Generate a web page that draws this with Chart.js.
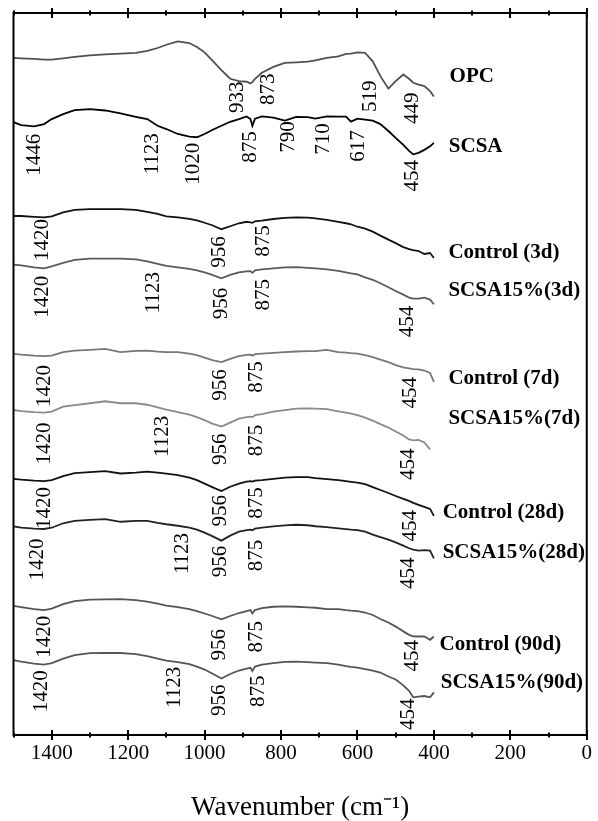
<!DOCTYPE html>
<html><head><meta charset="utf-8">
<script src="https://cdn.jsdelivr.net/npm/chart.js@4.4.1/dist/chart.umd.min.js"></script>
<style>html,body{margin:0;padding:0;background:#fff;}</style>
</head><body>
<canvas id="c" width="598" height="821"></canvas>
<script>
// Wavenumber sampling points (cm-1)
const wavenumbers = [1500,1480,1446,1420,1400,1370,1340,1300,1260,1220,1180,1150,1123,1100,1070,1040,1020,1000,980,956,933,910,890,880,875,868,850,820,790,760,730,710,680,650,630,617,600,580,560,540,519,500,480,465,454,440,425,410,400];

// Transmittance (arbitrary units, stacked spectra)
const opc = [682.7,682.3,681.7,681,681,682.3,683.7,685.3,686.3,687,687.7,689.7,692.7,696,699.3,697.7,693.7,688.3,680.3,670.3,661.7,659.3,658.7,657,658.3,661.7,667.7,673.7,677.7,678.3,679,680.3,682.7,684.3,686.7,687,688.3,687.7,679.3,664.3,651.7,659.3,666,661.7,657.7,655.7,654.3,649.3,643.7];
const scsa = [618,615,613.7,616,621,626,630,631,629.7,626.7,623.3,621,614.3,611,606,603.3,602.7,606,610,614.3,618.3,621,623.7,621,614.3,621.5,623.7,622.5,619.5,623.3,623,621.5,623.7,623.5,623.5,618.5,621.5,620.5,619.5,616,609,602,595,589,585.5,587,590,593.5,597];
const control3d = [523.3,523.3,522.5,522,523,527,529.5,530.3,530.3,530.3,529.5,527.5,525.5,523,522,520.5,519,516.5,514,510,513,516,517.5,517,516.5,518,518.7,520.3,521.5,522,521.7,521,519.5,517.5,516,515,512.5,510.5,507.5,503.5,499.5,496,492,490,489,488,485,486,481];
const scsa15_3d = [474.3,473.5,471.5,470.5,472.5,476,479,480.3,480.3,480.3,479.5,477.5,475,473,471.5,470,468.5,466.5,464,460.5,464,466.5,467.5,467.7,466,468.5,469.5,470.5,471.5,471.7,471,470.5,469.5,468,466.5,465.5,464.5,461.5,459,455.5,451.5,447.7,444,441,440,440,441,439,434.3];
const control7d = [384.3,383.5,382.5,382,382.5,386,387.5,388.3,389.3,386,387.3,387.5,386.5,386,386,384.5,383,380.5,378,376,379.3,382,383.3,383.5,382.5,384,384.5,385.3,386,386.7,387,387,388.3,386,385.5,385,384.5,383,381,378.5,376,373,370.7,369.7,369,368.7,367.5,365,356];
const scsa15_7d = [327.7,326.5,325.5,325,326,331,332.7,334.5,336.5,334.5,334.5,333,330.3,328,325.5,323,320.5,317.5,314,311,315,319,320.5,321,320.5,322.5,323.5,326,327.5,329,329.3,329,328.5,326.3,325,324,322.5,320,317,313.5,310,306,302,298,297,297.5,295,288,null];
const control28d = [258.3,257.5,256.5,256,257,261,264,265,266,263.7,264.5,265.5,264.5,263.5,262,259.5,257,253.5,250,246,250.3,253.5,255.5,256,255.5,256.5,257,258.3,259.5,260,260,259,258,257,256,255.3,254.5,253,250,247,244,241,238,236,234,232,230,228,221];
const scsa15_28d = [210.3,209,208,207.7,209,213.5,216,217,217.7,215,216,216,214,212.5,211,209,207,204,200.5,196,201,205,206.5,207,206.5,208,209,210.3,211.3,212,211.5,210.5,209.5,208.3,207.5,207,206.5,205,202,199.5,197,194.3,191,188.3,187,186,186.5,186,178];
const control90d = [130.3,129,127,126,127.5,132,135,136.5,136.7,137,136,134.5,132.5,130.5,129,127,125,122.5,120,116.7,120,123,125,126,122.7,126,128,129.3,129.7,129.3,128.7,128.3,127,127,126,125.5,125,123.5,121,117,113.5,109.3,104.5,101,99.5,99.3,99.3,96,99.3];
const scsa15_90d = [75.5,74,72,71,72.5,77,80.5,82.5,82.7,82.7,81.5,79.5,77,75,73.5,71.5,69,66,62,57,61.5,65,67,67.7,64.5,69,71,72.5,73.7,74,73.5,73,72.5,71,69.5,68.7,68,66.5,65,63,59,56,50,44.5,38,38.7,39.3,38,43];

const seriesNames = ['OPC','SCSA','Control (3d)','SCSA15%(3d)','Control (7d)','SCSA15%(7d)','Control (28d)','SCSA15%(28d)','Control (90d)','SCSA15%(90d)'];
const seriesValues = [opc,scsa,control3d,scsa15_3d,control7d,scsa15_7d,control28d,scsa15_28d,control90d,scsa15_90d];
const seriesColors = ['#505050','#000000','#111111','#5a5a5a','#777777','#8a8a8a','#111111','#222222','#555555','#555555'];

// Name label anchors: [wavenumber, value]
const nameAnchors = [[359,664],[361,593],[362,486],[362,448],[362,359],[362,319],[377,224],[377,184],[385,91],[382,53]];

// Peak labels: [text, wavenumber at label, value at label]
const peakLabels = [
  [['933',915,643],['873',832,651],['519',566,644],['449',457,632]],
  [['1446',1445,585],['1123',1137,586],['1020',1029,576],['875',881,593],['790',780,603],['710',690,601],['617',597,594],['454',455,564]],
  [['1420',1424,499],['956',961,487],['875',845,498]],
  [['1420',1424,442],['1123',1135,446],['956',956,435],['875',845,444],['454',470,417]],
  [['1420',1419,352],['956',959,353],['875',863,361],['454',462,345]],
  [['1420',1419,294],['1123',1109,301],['956',959,288],['875',863,297],['454',467,273]],
  [['1420',1419,229],['956',959,226],['875',863,234],['454',462,211]],
  [['1420',1437,177],['1123',1057,183],['956',959,175],['875',863,181],['454',467,163]],
  [['1420',1419,99],['956',961,91],['875',863,99],['454',455,80]],
  [['1420',1427,44],['1123',1078,48],['956',961,35],['875',858,44],['454',467,21]]
];

const SERIF = '"Liberation Serif", "Times New Roman", serif';

const decor = {
  id: 'decor',
  afterDatasetsDraw(chart) {
    const {ctx, chartArea: a, scales: {x, y}} = chart;
    ctx.save();
    ctx.strokeStyle = '#000';
    ctx.lineWidth = 2;
    ctx.strokeRect(a.left, a.top, a.right - a.left, a.bottom - a.top);
    x.ticks.forEach(t => {
      const px = Math.round(x.getPixelForValue(t.value));
      const h = (t.value % 200 === 0) ? 5 : 2.5;
      ctx.beginPath();
      ctx.moveTo(px, a.top - h); ctx.lineTo(px, a.top + h);
      ctx.moveTo(px, a.bottom - h); ctx.lineTo(px, a.bottom + h);
      ctx.stroke();
    });
    ctx.fillStyle = '#000';
    ctx.font = '21px ' + SERIF;
    ctx.textAlign = 'center';
    ctx.textBaseline = 'middle';
    peakLabels.forEach(list => list.forEach(([txt, w, v]) => {
      ctx.save();
      ctx.translate(x.getPixelForValue(w), y.getPixelForValue(v));
      ctx.rotate(-Math.PI / 2);
      ctx.fillText(txt, 0, 0);
      ctx.restore();
    }));
    ctx.font = 'bold 21px ' + SERIF;
    ctx.textAlign = 'left';
    seriesNames.forEach((n, i) => {
      const [w, v] = nameAnchors[i];
      ctx.fillText(n, x.getPixelForValue(w), y.getPixelForValue(v));
    });
    ctx.restore();
  }
};

new Chart(document.getElementById('c'), {
  type: 'line',
  data: {
    datasets: seriesValues.map((vals, i) => ({
      label: seriesNames[i],
      data: wavenumbers.map((w, j) => ({x: w, y: vals[j]})),
      borderColor: seriesColors[i],
      borderWidth: 1.8,
      pointRadius: 0,
      tension: 0,
      fill: false
    }))
  },
  options: {
    responsive: false,
    animation: false,
    devicePixelRatio: 1,
    layout: {padding: {left: 13.5, right: 5, top: 13, bottom: 0}},
    plugins: {legend: {display: false}, tooltip: {enabled: false}},
    scales: {
      x: {
        type: 'linear', reverse: true, min: 0, max: 1500,
        grid: {display: false, drawTicks: false},
        border: {display: false},
        ticks: {
          stepSize: 100, autoSkip: false, maxRotation: 0, padding: 6,
          color: '#000', font: {family: SERIF, size: 21},
          callback: v => (v % 200 === 0 ? String(v) : '')
        },
        title: {
          display: true, text: 'Wavenumber (cm\u207B\u00B9)', color: '#000',
          font: {family: SERIF, size: 27, lineHeight: 1.0},
          padding: {top: 21.8, bottom: 0}
        }
      },
      y: {display: false, min: 0, max: 728}
    }
  },
  plugins: [decor]
});
</script>
</body></html>
